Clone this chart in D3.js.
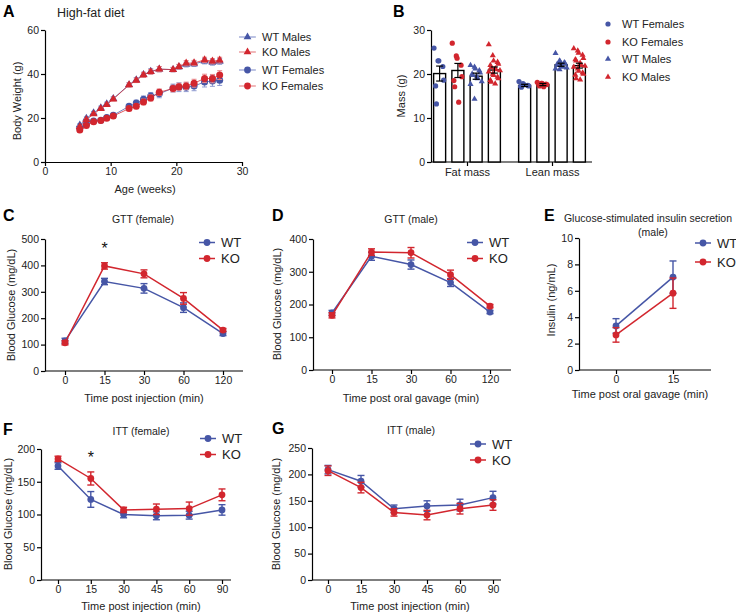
<!DOCTYPE html>
<html><head><meta charset="utf-8">
<script src="https://cdn.jsdelivr.net/npm/d3@7"></script>
<style>body{margin:0;background:#fff}</style>
</head><body><svg id="c" width="736" height="615"></svg>
<script>
// ---------------- DATA ----------------
// Panel A: body weight on high-fat diet
const ageWeeks       = [5.3, 6.3, 7.4, 8.5, 9.4, 10.4, 12.8, 13.9, 15.0, 16.1, 17.4, 19.5, 20.4, 21.5, 22.7, 24.3, 25.5, 26.6];
const bwWTMales      = [16.8, 19.8, 22.3, 24.6, 26.4, 28.8, 35.1, 37.3, 39.7, 41.2, 42.2, 42.0, 43.2, 44.3, 44.6, 45.8, 45.3, 45.7];
const bwWTMalesErr   = [0.6, 0.7, 0.7, 0.8, 0.8, 0.9, 1.0, 1.1, 1.1, 1.2, 1.2, 1.0, 1.1, 1.1, 1.2, 1.2, 1.3, 1.3];
const bwKOMales      = [16.0, 19.2, 21.8, 24.2, 26.0, 28.6, 35.0, 37.1, 39.6, 41.0, 42.2, 42.0, 43.3, 44.9, 45.0, 46.4, 45.8, 46.3];
const bwKOMalesErr   = [0.5, 0.6, 0.6, 0.7, 0.7, 0.8, 0.9, 1.0, 1.1, 1.1, 1.2, 1.0, 1.1, 1.2, 1.2, 1.2, 1.2, 1.3];
const bwWTFemales    = [15.3, 17.2, 18.6, 19.0, 20.2, 21.3, 25.3, 26.8, 28.5, 30.0, 31.0, 33.6, 34.0, 34.0, 34.5, 36.4, 36.8, 37.2];
const bwWTFemalesErr = [0.5, 0.6, 0.6, 0.7, 0.8, 0.9, 1.0, 1.3, 1.5, 1.6, 1.8, 1.8, 2.0, 2.0, 2.1, 2.3, 2.4, 2.4];
const bwKOFemales    = [14.6, 16.6, 18.3, 18.9, 19.9, 20.9, 24.3, 25.3, 27.3, 29.1, 31.7, 33.4, 34.2, 34.6, 35.8, 38.0, 37.9, 39.5];
const bwKOFemalesErr = [0.5, 0.5, 0.6, 0.6, 0.7, 0.8, 1.0, 1.1, 1.3, 1.4, 1.5, 1.5, 1.6, 1.7, 1.8, 1.9, 1.9, 2.0];
const ageTicks = [0, 10, 20, 30];
const bwTicks  = [0, 20, 40, 60];

// Panel B: body composition
const compGroups = ["Fat mass", "Lean mass"];
const compSeries = ["WT Females", "KO Females", "WT Males", "KO Males"];
const fatMean  = [20.1, 20.8, 19.5, 20.9];
const fatErr   = [1.7, 1.6, 0.7, 0.7];
const leanMean = [17.4, 17.6, 22.1, 21.9];
const leanErr  = [0.25, 0.25, 0.35, 0.55];
const fatWTF  = [25.9, 23.0, 23.0, 21.7, 18.6, 17.3, 13.2];
const fatKOF  = [27.0, 24.1, 23.6, 22.0, 19.4, 18.5, 17.1, 13.6];
const fatWTM  = [22.0, 21.6, 21.2, 20.8, 20.3, 20.0, 19.7, 19.4, 19.0, 18.3, 17.7, 14.3];
const fatKOM  = [26.7, 24.2, 23.0, 22.7, 22.3, 22.0, 21.5, 21.2, 21.0, 20.8, 20.5, 20.0, 19.7, 19.3, 19.0, 18.6, 18.2, 17.8];
const leanWTF = [18.3, 17.8, 17.6, 17.4, 17.3, 17.2, 17.0];
const leanKOF = [18.1, 17.9, 17.9, 17.7, 17.6, 17.5, 17.3, 17.1];
const leanWTM = [24.7, 23.0, 22.8, 22.6, 22.4, 22.2, 22.0, 21.8, 21.6, 21.4, 21.2, 21.0];
const leanKOM = [25.8, 25.3, 24.8, 24.3, 23.6, 23.3, 23.0, 22.5, 22.0, 21.8, 21.6, 21.2, 20.7, 20.3, 20.0, 19.8, 19.0, 18.7];
const massTicks = [0, 10, 20, 30];

// Panel C: GTT female
const gttTimes = ["0", "15", "30", "60", "120"];
const gttFemWT = [114, 339, 313, 240, 142];
const gttFemWTErr = [10, 12, 18, 18, 8];
const gttFemKO = [107, 398, 368, 275, 155];
const gttFemKOErr = [8, 12, 15, 22, 6];
const gttFemTicks = [0, 100, 200, 300, 400, 500];
// Panel D: GTT male
const gttMaleWT = [174, 347, 322, 267, 177];
const gttMaleWTErr = [8, 12, 14, 12, 5];
const gttMaleKO = [167, 360, 358, 291, 195];
const gttMaleKOErr = [8, 10, 16, 14, 5];
const gttMaleTicks = [0, 100, 200, 300, 400];
// Panel E: insulin
const insTimes = ["0", "15"];
const insWT = [3.34, 7.04];
const insWTErr = [0.55, 1.22];
const insKO = [2.66, 5.82];
const insKOErr = [0.55, 1.15];
const insTicks = [0, 2, 4, 6, 8, 10];
// Panel F: ITT female
const ittTimes = ["0", "15", "30", "45", "60", "90"];
const ittFemWT = [174, 123, 100, 98, 99, 107];
const ittFemWTErr = [5, 12, 5, 6, 6, 8];
const ittFemKO = [185, 155, 107, 108, 109, 130];
const ittFemKOErr = [4, 10, 4, 8, 10, 9];
const ittFemTicks = [0, 50, 100, 150, 200];
// Panel G: ITT male
const ittMaleWT = [209, 187, 135, 140, 142, 156];
const ittMaleWTErr = [8, 11, 7, 10, 11, 12];
const ittMaleKO = [207, 175, 128, 123, 135, 142];
const ittMaleKOErr = [9, 10, 7, 9, 10, 10];
const ittMaleTicks = [0, 50, 100, 150, 200, 250];

// ---------------- STYLE ----------------
const FONT = "'Liberation Sans', Arial, Helvetica, sans-serif";
const BLUE = "#4656a6", RED = "#d2262e";
const BLUE_L = "#8f9ad0", RED_L = "#e8868a";
const TXT = "#222";

const svg = d3.select("#c").attr("font-family", FONT);
svg.append("rect").attr("width", 736).attr("height", 615).attr("fill", "#fff");

function styleAxis(g, fs) {
  g.selectAll("path,line").attr("stroke", "#000").attr("stroke-width", 1.2);
  g.selectAll("text").attr("font-size", fs || 10.5).attr("fill", TXT).attr("font-family", FONT);
}
function text(x, y, s, o = {}) {
  const t = svg.append("text").attr("x", x).attr("y", y).text(s)
    .attr("font-size", o.fs || 11).attr("fill", o.fill || TXT)
    .attr("text-anchor", o.anchor || "start");
  if (o.bold) t.attr("font-weight", "bold");
  if (o.rot) t.attr("transform", `rotate(-90,${x},${y})`);
  if (o.dy) t.attr("dy", o.dy);
  return t;
}
function errBar(g, x, y, v, e, color, cap, sw) {
  g.append("line").attr("x1", x).attr("x2", x).attr("y1", y(v - e)).attr("y2", y(v + e))
    .attr("stroke", color).attr("stroke-width", sw);
  [v - e, v + e].forEach(b => g.append("line").attr("x1", x - cap).attr("x2", x + cap)
    .attr("y1", y(b)).attr("y2", y(b)).attr("stroke", color).attr("stroke-width", sw));
}

// ---------------- PANEL A ----------------
{
  const x = d3.scaleLinear().domain([0, 30]).range([45, 242]);
  const y = d3.scaleLinear().domain([0, 60]).range([162, 30]);
  styleAxis(svg.append("g").attr("transform", "translate(0,162)")
    .call(d3.axisBottom(x).tickValues(ageTicks).tickSize(4).tickSizeOuter(0).tickPadding(2)));
  styleAxis(svg.append("g").attr("transform", "translate(45,0)")
    .call(d3.axisLeft(y).tickValues(bwTicks).tickSize(4).tickSizeOuter(0).tickPadding(2)));
  const series = [
    {v: bwWTFemales, e: bwWTFemalesErr, c: BLUE, l: BLUE_L, sym: "circle", name: "WT Females"},
    {v: bwKOFemales, e: bwKOFemalesErr, c: RED, l: RED_L, sym: "circle", name: "KO Females"},
    {v: bwWTMales, e: bwWTMalesErr, c: BLUE, l: BLUE_L, sym: "tri", name: "WT Males"},
    {v: bwKOMales, e: bwKOMalesErr, c: RED, l: RED_L, sym: "tri", name: "KO Males"},
  ];
  const g = svg.append("g");
  const line = d3.line().x((d, i) => x(ageWeeks[i])).y(d => y(d));
  series.forEach(s => {
    g.append("path").attr("d", line(s.v)).attr("fill", "none").attr("stroke", s.c).attr("stroke-width", 1).attr("opacity", 0.75);
    s.v.forEach((v, i) => errBar(g, x(ageWeeks[i]), y, v, s.e[i], s.l, 2.5, 1));
    s.v.forEach((v, i) => {
      if (s.sym === "circle") g.append("circle").attr("cx", x(ageWeeks[i])).attr("cy", y(v)).attr("r", 3.5).attr("fill", s.c);
      else g.append("path").attr("d", d3.symbol(d3.symbolTriangle, 28)())
        .attr("transform", `translate(${x(ageWeeks[i])},${y(v)})`).attr("fill", s.c);
    });
  });
  // legend
  const leg = [series[2], series[3], series[0], series[1]];
  const ly = [37, 52, 70, 86];
  leg.forEach((s, i) => {
    svg.append("line").attr("x1", 239).attr("x2", 256).attr("y1", ly[i]).attr("y2", ly[i]).attr("stroke", s.l).attr("stroke-width", 1.2);
    if (s.sym === "circle") svg.append("circle").attr("cx", 247.5).attr("cy", ly[i]).attr("r", 3.4).attr("fill", s.c);
    else svg.append("path").attr("d", d3.symbol(d3.symbolTriangle, 26)()).attr("transform", `translate(247.5,${ly[i]})`).attr("fill", s.c);
    text(262, ly[i], s.name, {fs: 11, dy: "0.35em"});
  });
  text(3, 17, "A", {fs: 16, bold: true, fill: "#000"});
  text(57, 17, "High-fat diet", {fs: 12.5});
  text(20.5, 101, "Body Weight (g)", {fs: 11, rot: true, anchor: "middle"});
  text(145, 193, "Age (weeks)", {fs: 11, anchor: "middle"});
}

// ---------------- PANEL B ----------------
{
  const y = d3.scaleLinear().domain([0, 30]).range([162, 30]);
  const gx = d3.scalePoint().domain(compGroups).range([467, 552]);
  const inner = d3.scaleBand().domain(compSeries).range([-36.5, 36.5]);
  styleAxis(svg.append("g").attr("transform", "translate(431,0)")
    .call(d3.axisLeft(y).tickValues(massTicks).tickSize(4).tickSizeOuter(0).tickPadding(2)));
  const ax = svg.append("g").attr("transform", "translate(0,162)")
    .call(d3.axisBottom(gx).tickSize(4).tickSizeOuter(0).tickPadding(2));
  ax.select(".domain").remove();
  ax.append("line").attr("x1", 431).attr("x2", 592).attr("y1", 0).attr("y2", 0);
  styleAxis(ax, 11);
  const means = {"Fat mass": fatMean, "Lean mass": leanMean};
  const errs = {"Fat mass": fatErr, "Lean mass": leanErr};
  const pts = {"Fat mass": [fatWTF, fatKOF, fatWTM, fatKOM], "Lean mass": [leanWTF, leanKOF, leanWTM, leanKOM]};
  const cols = [BLUE, RED, BLUE, RED];
  const syms = ["circle", "circle", "tri", "tri"];
  const bw = 12;
  const g = svg.append("g");
  compGroups.forEach(grp => {
    compSeries.forEach((s, k) => {
      const cx = gx(grp) + inner(s) + inner.bandwidth() / 2;
      const m = means[grp][k];
      g.append("rect").attr("x", cx - bw / 2).attr("y", y(m)).attr("width", bw).attr("height", y(0) - y(m))
        .attr("fill", "#fff").attr("stroke", "#000").attr("stroke-width", 1.4);
      pts[grp][k].forEach((v, i) => {
        const off = ((i % 5) - 2) * 2.4 + ((i % 2) ? 0.8 : -0.8);
        if (syms[k] === "circle") g.append("circle").attr("cx", cx + off).attr("cy", y(v)).attr("r", 2.6).attr("fill", cols[k]);
        else g.append("path").attr("d", d3.symbol(d3.symbolTriangle, 16)()).attr("transform", `translate(${cx + off},${y(v)})`).attr("fill", cols[k]);
      });
      errBar(g, cx, y, m, errs[grp][k], "#000", 3.5, 1.2);
    });
  });
  const ly = [24, 42, 59, 77];
  compSeries.forEach((s, k) => {
    if (syms[k] === "circle") svg.append("circle").attr("cx", 608).attr("cy", ly[k]).attr("r", 2.6).attr("fill", cols[k]);
    else svg.append("path").attr("d", d3.symbol(d3.symbolTriangle, 16)()).attr("transform", `translate(608,${ly[k]})`).attr("fill", cols[k]);
    text(622, ly[k], s, {fs: 11, dy: "0.35em"});
  });
  text(393, 17, "B", {fs: 16, bold: true, fill: "#000"});
  text(405, 96, "Mass (g)", {fs: 11, rot: true, anchor: "middle"});
}

// ---------------- CATEGORY PANELS (C-G) ----------------
function catPanel(o) {
  const x = d3.scalePoint().domain(o.cats).range([o.t0, o.t1]);
  const y = d3.scaleLinear().domain([0, o.yMax]).range([o.yBot, o.yTop]);
  styleAxis(svg.append("g").attr("transform", `translate(${o.ax0},0)`)
    .call(d3.axisLeft(y).tickValues(o.yTicks).tickSize(4).tickSizeOuter(0).tickPadding(2)));
  const ax = svg.append("g").attr("transform", `translate(0,${o.yBot})`)
    .call(d3.axisBottom(x).tickSize(4).tickSizeOuter(0).tickPadding(2));
  ax.select(".domain").remove();
  ax.append("line").attr("x1", o.ax0).attr("x2", o.ax1).attr("y1", 0).attr("y2", 0);
  styleAxis(ax, 10.5);
  const g = svg.append("g");
  const line = d3.line().x((d, i) => x(o.cats[i])).y(d => y(d));
  [{v: o.wt, e: o.wtErr, c: BLUE}, {v: o.ko, e: o.koErr, c: RED}].forEach(s => {
    g.append("path").attr("d", line(s.v)).attr("fill", "none").attr("stroke", s.c).attr("stroke-width", 1.5);
    s.v.forEach((v, i) => errBar(g, x(o.cats[i]), y, v, s.e[i], s.c, 3.5, 1.4));
    s.v.forEach((v, i) => g.append("circle").attr("cx", x(o.cats[i])).attr("cy", y(v)).attr("r", 3.4).attr("fill", s.c));
  });
  [["WT", BLUE, o.ly[0]], ["KO", RED, o.ly[1]]].forEach(([n, c, yy]) => {
    svg.append("line").attr("x1", o.lx - 8).attr("x2", o.lx + 8).attr("y1", yy).attr("y2", yy).attr("stroke", c).attr("stroke-width", 1.5);
    svg.append("circle").attr("cx", o.lx).attr("cy", yy).attr("r", 3.4).attr("fill", c);
    text(o.lx + 14, yy, n, {fs: 13, dy: "0.36em"});
  });
  text(o.letter[1], o.letter[2], o.letter[0], {fs: 16, bold: true, fill: "#000"});
  o.title.forEach(t => text(t[1], t[2], t[0], {fs: 10.5, anchor: "middle"}));
  text(o.ylab[1], o.ylab[2], o.ylab[0], {fs: 11, rot: true, anchor: "middle"});
  text(o.xlab[1], o.xlab[2], o.xlab[0], {fs: 11, anchor: "middle"});
  if (o.star) o.star.forEach(s => text(x(s[0]), s[1], "*", {fs: 16, anchor: "middle", fill: "#111"}));
}

catPanel({cats: gttTimes, wt: gttFemWT, wtErr: gttFemWTErr, ko: gttFemKO, koErr: gttFemKOErr,
  ax0: 45, ax1: 243, t0: 65, t1: 223, yBot: 371, yTop: 239, yMax: 500, yTicks: gttFemTicks,
  lx: 207, ly: [242.5, 258.5], letter: ["C", 3, 221], title: [["GTT (female)", 143, 223]],
  ylab: ["Blood Glucose (mg/dL)", 15, 305], xlab: ["Time post injection (min)", 144, 402], star: [["15", 254]]});

catPanel({cats: gttTimes, wt: gttMaleWT, wtErr: gttMaleWTErr, ko: gttMaleKO, koErr: gttMaleKOErr,
  ax0: 313, ax1: 511, t0: 332, t1: 490, yBot: 370, yTop: 239, yMax: 400, yTicks: gttMaleTicks,
  lx: 475, ly: [242.5, 258.5], letter: ["D", 272, 221], title: [["GTT (male)", 411, 223]],
  ylab: ["Blood Glucose (mg/dL)", 281, 304], xlab: ["Time post oral gavage (min)", 411, 402]});

catPanel({cats: insTimes, wt: insWT, wtErr: insWTErr, ko: insKO, koErr: insKOErr,
  ax0: 579, ax1: 711, t0: 616, t1: 673, yBot: 370, yTop: 238, yMax: 10, yTicks: insTicks,
  lx: 703, ly: [243, 262], letter: ["E", 544, 221],
  title: [["Glucose-stimulated insulin secretion", 648, 222], ["(male)", 653, 236]],
  ylab: ["Insulin (ng/mL)", 555, 300], xlab: ["Time post oral gavage (min)", 640, 398]});

catPanel({cats: ittTimes, wt: ittFemWT, wtErr: ittFemWTErr, ko: ittFemKO, koErr: ittFemKOErr,
  ax0: 41, ax1: 231, t0: 58, t1: 222, yBot: 580, yTop: 449, yMax: 200, yTicks: ittFemTicks,
  lx: 208, ly: [438.5, 454.5], letter: ["F", 3, 435], title: [["ITT (female)", 141, 435]],
  ylab: ["Blood Glucose (mg/dL)", 11.5, 514], xlab: ["Time post injection (min)", 141, 610], star: [["15", 463]]});

catPanel({cats: ittTimes, wt: ittMaleWT, wtErr: ittMaleWTErr, ko: ittMaleKO, koErr: ittMaleKOErr,
  ax0: 312, ax1: 501, t0: 328, t1: 493, yBot: 580, yTop: 448, yMax: 250, yTicks: ittMaleTicks,
  lx: 478, ly: [444, 460], letter: ["G", 272, 434], title: [["ITT (male)", 411, 434]],
  ylab: ["Blood Glucose (mg/dL)", 280, 514], xlab: ["Time post injection (min)", 410, 610]});
</script></body></html>
